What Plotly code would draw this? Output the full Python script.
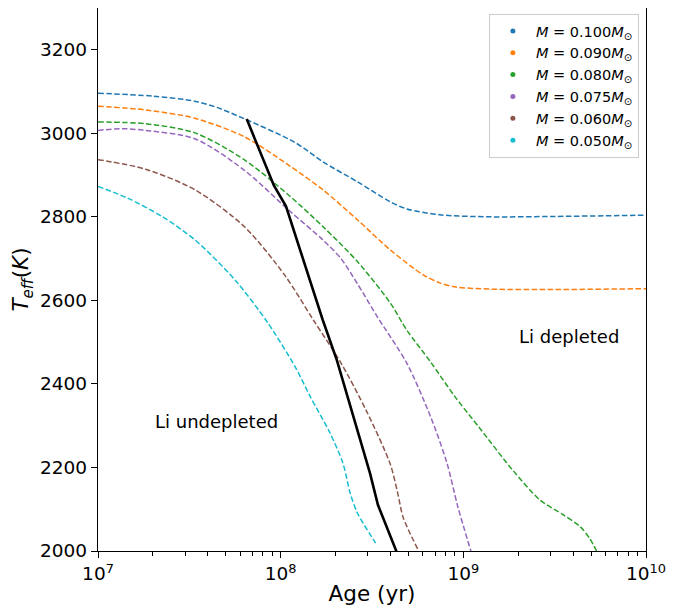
import plotly.graph_objects as go

# ---- data (age in yr, Teff in K) ----
labels = ["0.100", "0.090", "0.080", "0.075", "0.060", "0.050"]
colors = ["#1f77b4", "#ff7f0e", "#2ca02c", "#9467bd", "#8c564b", "#17becf"]

age_m100 = [1e7, 2.0e7, 3.39e7, 4.47e7, 6.31e7, 1.20e8, 1.70e8, 2.63e8, 3.98e8, 4.90e8, 7.41e8, 1.41e9, 3.16e9, 1e10]
teff_m100 = [3096, 3089, 3077, 3062, 3035, 2978, 2932, 2884, 2836, 2819, 2805, 2800, 2801, 2804]

age_m090 = [1e7, 1.82e7, 3.39e7, 6.31e7, 1.12e8, 1.70e8, 2.63e8, 3.98e8, 6.03e8, 7.41e8, 9.12e8, 1.41e9, 3.16e9, 1e10]
teff_m090 = [3065, 3056, 3036, 2992, 2922, 2865, 2793, 2721, 2661, 2642, 2632, 2627, 2626, 2628]

age_m080 = [1e7, 1.82e7, 3.39e7, 6.31e7, 1.12e8, 1.70e8, 2.63e8, 3.98e8, 4.90e8, 6.61e8, 8.91e8, 1.23e9, 1.86e9, 2.63e9, 3.55e9, 4.37e9, 4.90e9, 5.37e9]
teff_m080 = [3027, 3023, 3001, 2937, 2850, 2777, 2693, 2594, 2529, 2453, 2372, 2294, 2194, 2122, 2086, 2058, 2031, 2000]

age_m075 = [1e7, 1.35e7, 1.82e7, 3.39e7, 6.31e7, 1.12e8, 1.70e8, 2.14e8, 2.63e8, 3.39e8, 4.90e8, 6.61e8, 8.13e8, 9.33e8, 1.10e9]
teff_m075 = [3007, 3011, 3007, 2987, 2912, 2814, 2745, 2700, 2640, 2560, 2450, 2322, 2211, 2106, 2000]

age_m060 = [1e7, 1.82e7, 3.39e7, 6.31e7, 1.05e8, 1.51e8, 2.14e8, 2.95e8, 3.98e8, 4.37e8, 4.68e8, 5.62e8]
teff_m060 = [2937, 2914, 2865, 2777, 2661, 2553, 2450, 2335, 2208, 2139, 2081, 2005]

age_m050 = [1e7, 1.45e7, 2.24e7, 3.39e7, 5.62e7, 8.51e7, 1.20e8, 1.45e8, 1.86e8, 2.19e8, 2.40e8, 2.63e8, 3.31e8]
teff_m050 = [2873, 2845, 2801, 2745, 2649, 2546, 2441, 2370, 2283, 2211, 2139, 2091, 2019]

age_li = [6.52e7, 7.52e7, 9.18e7, 1.07e8, 1.45e8, 1.70e8, 2.03e8, 2.63e8, 3.08e8, 3.41e8, 4.34e8]
teff_li = [3034, 2968, 2875, 2825, 2649, 2553, 2457, 2290, 2187, 2110, 1995]

x_tickvals = [1e7, 1e8, 1e9, 1e10]
x_ticktext = ["10<sup>7</sup>", "10<sup>8</sup>", "10<sup>9</sup>", "10<sup>10</sup>"]
y_tickvals = [2000, 2200, 2400, 2600, 2800, 3000, 3200]

ages = [age_m100, age_m090, age_m080, age_m075, age_m060, age_m050]
teffs = [teff_m100, teff_m090, teff_m080, teff_m075, teff_m060, teff_m050]

FONT = "DejaVu Sans"
fig = go.Figure()

for a, t, c in zip(ages, teffs, colors):
    fig.add_trace(go.Scatter(x=a, y=t, mode="lines", showlegend=False,
                             line=dict(color=c, width=1.5, dash="5.5px,2.5px",
                                       shape="spline", smoothing=0.8)))

fig.add_trace(go.Scatter(x=age_li, y=teff_li, mode="lines", showlegend=False,
                         line=dict(color="black", width=2.6)))

for lab, c in zip(labels, colors):
    fig.add_trace(go.Scatter(x=[None], y=[None], mode="markers",
                             marker=dict(color=c, size=5),
                             name=f"<i>M</i> = {lab}<i>M</i><sub>⊙</sub>"))

fig.add_annotation(x=7.646, y=2311, xref="x", yref="y", text="Li undepleted",
                   showarrow=False, font=dict(family=FONT, size=18, color="black"))
fig.add_annotation(x=9.581, y=2513, xref="x", yref="y", text="Li depleted",
                   showarrow=False, font=dict(family=FONT, size=18, color="black"))

# page body has an 8px margin: the figure is drawn at (8, 8)
fig.update_layout(
    width=677, height=600,
    margin=dict(l=90, r=39, t=0, b=57, autoexpand=False),
    paper_bgcolor="white", plot_bgcolor="white",
    font=dict(family=FONT, color="black"),
    legend=dict(x=0.987, xanchor="right", y=0.989, yanchor="top",
                bgcolor="rgba(255,255,255,0.8)", bordercolor="#cccccc", borderwidth=1,
                font=dict(family=FONT, size=14.5, color="black"),
                itemwidth=36, tracegroupgap=0),
)

fig.update_xaxes(type="log", range=[7, 10], automargin=False,
                 tickvals=x_tickvals, ticktext=x_ticktext,
                 ticks="outside", ticklen=6, tickwidth=1.2, tickcolor="black",
                 showline=True, linecolor="black", linewidth=1.3, mirror=True,
                 showgrid=False, zeroline=False,
                 tickfont=dict(family=FONT, size=18.5, color="black"),
                 minor=dict(ticks="outside", ticklen=3.5, tickwidth=1, tickcolor="black",
                            dtick="D1", showgrid=False),
                 title=dict(text="Age (yr)", font=dict(family=FONT, size=21.5, color="black"),
                            standoff=2))

fig.update_yaxes(range=[2000, 3300], tickvals=y_tickvals, automargin=False,
                 ticks="outside", ticklen=6, tickwidth=1.2, tickcolor="black",
                 showline=True, linecolor="black", linewidth=1.3, mirror=True,
                 showgrid=False, zeroline=False,
                 tickfont=dict(family=FONT, size=18.5, color="black"),
                 title=dict(text="<i>T</i><sub><i>eff</i></sub>(<i>K</i>)",
                            font=dict(family=FONT, size=21.5, color="black"),
                            standoff=8))

fig.write_html("out.html")
